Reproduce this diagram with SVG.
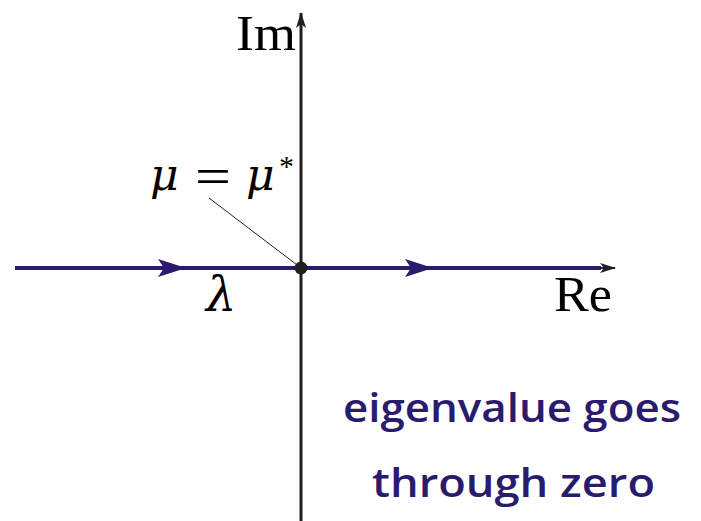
<svg xmlns="http://www.w3.org/2000/svg" width="701" height="521" viewBox="0 0 701 521">
<style>
.math{font-family:"Liberation Serif","DejaVu Serif",serif;fill:#000}
.greek{font-family:"DejaVu Serif","Liberation Serif",serif;font-style:italic;fill:#000}
.note{font-family:"Comic Sans MS","Open Sans","Noto Sans",sans-serif;fill:#2a1b6e;font-size:40px;font-weight:600}
</style>
<defs>
<marker id="blk" markerWidth="16" markerHeight="10" refX="15" refY="5" orient="auto" markerUnits="userSpaceOnUse">
<path d="M0,0 L16,5 L0,10 L4,5 Z" fill="#231f20"/>
</marker>
</defs>
<rect width="701" height="521" fill="#fff"/>
<g id="connectors">
<line x1="301" y1="521" x2="301" y2="13" stroke="#231f20" stroke-width="3" marker-end="url(#blk)"/>
<line x1="598" y1="268" x2="615" y2="268" stroke="#231f20" stroke-width="2" marker-end="url(#blk)"/>
<line x1="15" y1="268" x2="601" y2="268" stroke="#2a1b6e" stroke-width="4"/>
<path d="M158,259 L186,268 L158,277 L164,268 Z" fill="#2a1b6e"/>
<path d="M405,259 L433,268 L405,277 L411,268 Z" fill="#2a1b6e"/>
<line x1="209" y1="198" x2="301" y2="268" stroke="#231f20" stroke-width="1"/>
</g>
<g id="origin"><circle cx="301" cy="268" r="6.5" fill="#231f20"/></g>
<g id="label-im"><text class="math" x="236" y="50" font-size="50" textLength="60" lengthAdjust="spacingAndGlyphs">Im</text></g>
<g id="label-re"><text class="math" x="554" y="311" font-size="50" textLength="58" lengthAdjust="spacingAndGlyphs">Re</text></g>
<g id="label-mu">
<text class="greek" x="150" y="190" font-size="44">μ</text>
<text class="math" x="195" y="194" font-size="52" textLength="36" lengthAdjust="spacingAndGlyphs">=</text>
<text class="greek" x="246" y="190" font-size="44">μ</text>
<text class="math" x="279" y="176" font-size="30">*</text>
</g>
<g id="label-lambda"><text class="greek" x="206" y="311" font-size="48">λ</text></g>
<g id="note"><text class="note" x="343" y="422" textLength="338" lengthAdjust="spacingAndGlyphs">eigenvalue goes</text><text class="note" x="372" y="497" textLength="283" lengthAdjust="spacingAndGlyphs">through zero</text></g>
</svg>
